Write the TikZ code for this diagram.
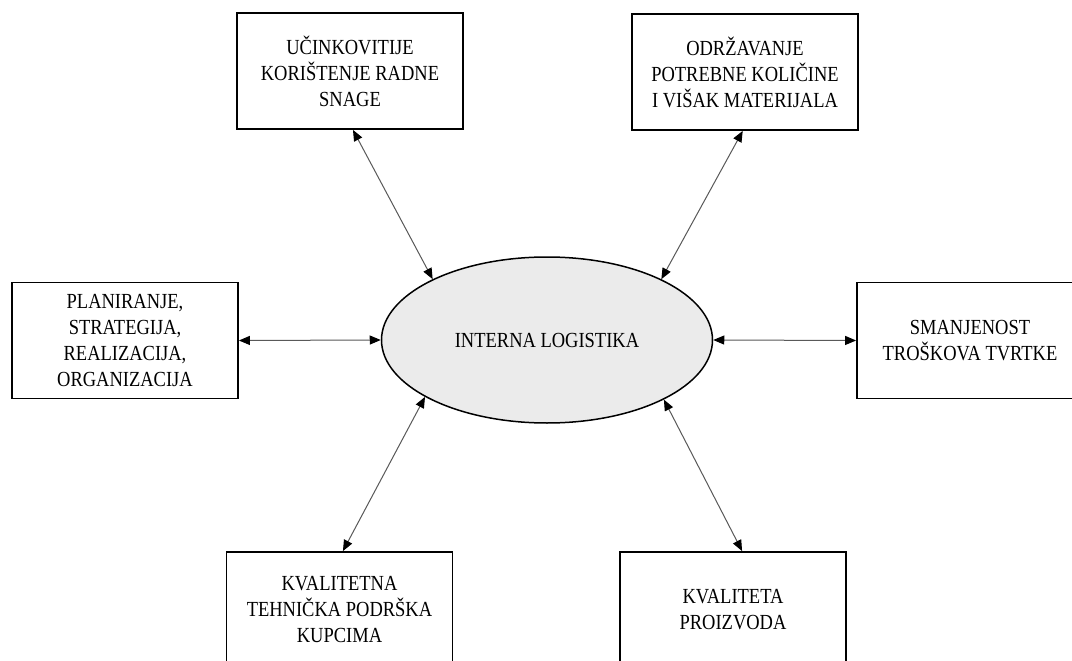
\documentclass[tikz,border=0pt]{standalone}
\usepackage{fontspec}
\setmainfont{Liberation Serif}[FakeStretch=0.86]
\usetikzlibrary{shapes.geometric,arrows.meta,calc}
\begin{document}
\begin{tikzpicture}[x=1pt,y=-1pt,
  box/.style={draw=black,line width=1.8pt,rectangle,minimum width=226pt,minimum height=116pt,
    align=center,inner sep=0pt,font=\fontsize{21.5}{26}\selectfont},
  core/.style={ellipse,draw=black,line width=1.5pt,fill=black!8,minimum width=331pt,minimum height=166pt,
    inner sep=0pt,font=\fontsize{21.5}{26}\selectfont},
  link/.style={draw=black!65,line width=1pt,
    {Triangle[length=11pt,width=9pt,color=black]}-{Triangle[length=11pt,width=9pt,color=black]}}]
\useasboundingbox (0,0) rectangle (1072,661);
\fill[white] (0,0) rectangle (1072,661);
\clip (0,0) rectangle (1072,661);
\node[core] (il) at (547,340) {INTERNA LOGISTIKA};
\node[box] (tl) at (350,71) {UČINKOVITIJE\\KORIŠTENJE RADNE\\SNAGE};
\node[box] (tr) at (745,72) {ODRŽAVANJE\\POTREBNE KOLIČINE\\I VIŠAK MATERIJALA};
\node[box] (lb) at (125,340.5) {PLANIRANJE,\\STRATEGIJA,\\REALIZACIJA,\\ORGANIZACIJA};
\node[box] (rb) at (970,340.5) {SMANJENOST\\TROŠKOVA TVRTKE};
\node[box] (bl) at (339.5,610) {KVALITETNA\\TEHNIČKA PODRŠKA\\KUPCIMA};
\node[box] (br) at (733,610) {KVALITETA\\PROIZVODA};
\draw[link] ($(tl.south west)!0.513!(tl.south east)$) -- (il.152);
\draw[link] ($(tr.south west)!0.49!(tr.south east)$) -- (il.28);
\draw[link] (lb.east) -- (il.west);
\draw[link] (rb.west) -- (il.east);
\draw[link] ($(bl.north west)!0.515!(bl.north east)$) -- (il.205);
\draw[link] ($(br.north west)!0.54!(br.north east)$) -- (il.333);
\end{tikzpicture}
\end{document}
